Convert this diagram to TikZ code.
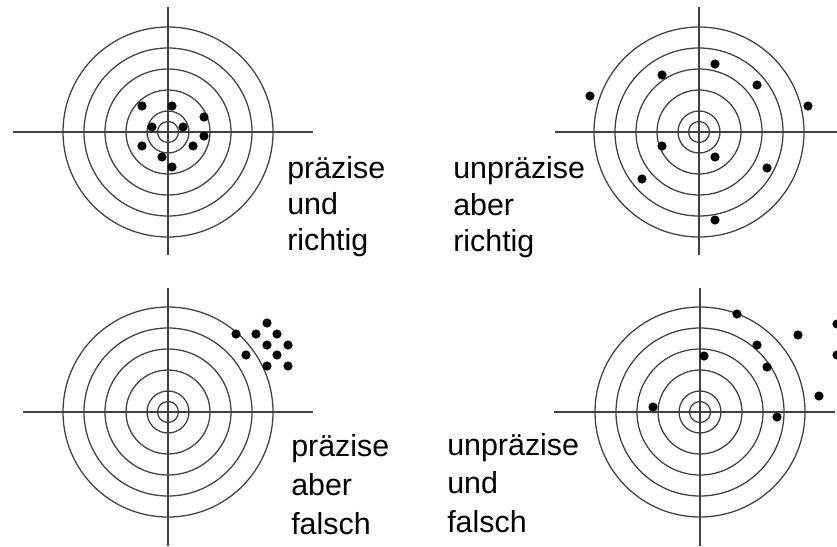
\documentclass[tikz,border=0pt]{standalone}
\usepackage{fontspec}
\setmainfont{Liberation Sans}
\begin{document}
\begin{tikzpicture}[x=0.75pt,y=-0.75pt,
        ring/.style={black!75, line width=0.95pt},
        treffer/.style={fill=black},
        beschr/.style={anchor=base west, inner sep=0pt, font=\fontsize{22.8}{27}\selectfont}]
    \useasboundingbox (0,0) rectangle (837,546);
        % oben links
        \draw[ring](168,7)--(168,255) (13,132)--(313,132);
        \draw[ring](168,132) circle (10.5) circle (21) circle (42) circle (63) circle (84) circle (105);
        \fill[treffer, shift={(168,132)}] (-26,-26) circle (4.6) (4,-26) circle (4.6) (36,-15) circle (4.6)
            (-16,-5) circle (4.6) (15,-5) circle (4.6) (36,4) circle (4.6) (-26,14) circle (4.6)
            (25,14) circle (4.6) (-6,25) circle (4.6) (4,35) circle (4.6);
        % oben rechts
        \draw[ring](699,7)--(699,255) (555,132)--(837,132);
        \draw[ring](699,132) circle (10.5) circle (21) circle (42) circle (63) circle (84) circle (105);
        \fill[treffer, shift={(699,132)}] (-109,-36) circle (4.6) (-37,-57) circle (4.6) (16,-68) circle (4.6)
            (58,-47) circle (4.6) (109,-26) circle (4.6) (-37,14) circle (4.6) (16,25) circle (4.6)
            (68,36) circle (4.6) (-57,47) circle (4.6) (16,88) circle (4.6);
        % unten links
        \draw[ring](168,288)--(168,546) (23,412)--(313,412);
        \draw[ring](168,412) circle (10.5) circle (21) circle (42) circle (63) circle (84) circle (105);
        \fill[treffer, shift={(168,412)}] (99,-89) circle (4.6) (68,-78) circle (4.6) (88,-78) circle (4.6)
            (109,-78) circle (4.6) (99,-67) circle (4.6) (120,-67) circle (4.6) (78,-57) circle (4.6)
            (109,-57) circle (4.6) (99,-46) circle (4.6) (120,-46) circle (4.6);
        % unten rechts
        \draw[ring](700,288)--(700,546) (554,412)--(835,412);
        \draw[ring](700,412) circle (10.5) circle (21) circle (42) circle (63) circle (84) circle (105);
        \fill[treffer, shift={(700,412)}] (37,-98) circle (4.6) (98,-77) circle (4.6) (57,-67) circle (4.6)
            (137,-88) circle (4.6) (137,-57) circle (4.6) (4,-56) circle (4.6) (67,-45) circle (4.6)
            (119,-16) circle (4.6) (-47,-5) circle (4.6) (77,5) circle (4.6);
        % Beschriftungen
        \node[beschr] (lo1) at (287,178) {präzise};
        \node[beschr] (lo2) at (287,214) {und};
        \node[beschr] (lo3) at (287,250) {richtig};
        \node[beschr] (ro1) at (453,178) {unpräzise};
        \node[beschr] (ro2) at (453,215) {aber};
        \node[beschr] (ro3) at (453,251) {richtig};
        \node[beschr] (lu1) at (291,456) {präzise};
        \node[beschr] (lu2) at (291,495) {aber};
        \node[beschr] (lu3) at (291,534) {falsch};
        \node[beschr] (ru1) at (447,455) {unpräzise};
        \node[beschr] (ru2) at (447,493) {und};
        \node[beschr] (ru3) at (447,532) {falsch};
    \end{tikzpicture}
\end{document}
